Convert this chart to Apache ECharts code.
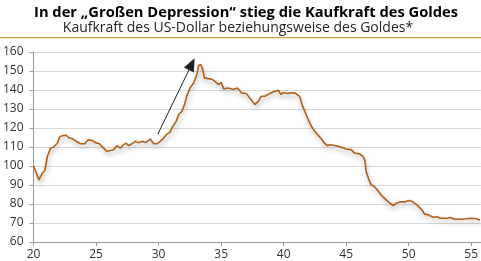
<!DOCTYPE html>
<html><head><meta charset="utf-8">
<script src="https://cdn.jsdelivr.net/npm/echarts@6/dist/echarts.min.js"></script>
<style>html,body{margin:0;padding:0;background:#fff}#c{width:481px;height:261px}</style>
</head><body><div id="c"></div>
<script>
var titleText = 'In der \u201EGro\u00DFen Depression\u201C stieg die Kaufkraft des Goldes';
var subtitleText = 'Kaufkraft des US-Dollar beziehungsweise des Goldes*';
var yTicks = [60, 70, 80, 90, 100, 110, 120, 130, 140, 150, 160];
var xTicks = [20, 25, 30, 35, 40, 45, 50, 55];
var years = [20,20.1,20.43,20.5,20.7,20.9,21.1,21.36,21.6,21.9,22.07,22.3,22.6,22.8,23.14,23.4,23.75,24.1,24.36,24.68,24.95,25.26,25.4,25.6,25.88,26.07,26.4,26.67,26.95,27.1,27.4,27.6,27.87,28.13,28.4,28.7,28.95,29.33,29.6,29.87,30.13,30.4,30.66,30.9,31.1,31.4,31.6,31.86,32.07,32.26,32.52,32.8,33.06,33.2,33.37,33.53,33.66,34.0,34.25,34.5,34.79,35.0,35.2,35.58,35.98,36.3,36.63,37.0,37.4,37.7,37.97,38.2,38.5,38.9,39.3,39.6,39.77,40.0,40.3,40.57,40.9,41.27,41.5,41.87,42.25,42.6,42.96,43.27,43.5,43.7,44.2,44.55,45.0,45.4,45.67,46.07,46.35,46.5,46.6,46.8,47.0,47.3,47.6,47.86,48.2,48.5,48.76,49.0,49.3,49.7,50.0,50.28,50.55,50.8,51.1,51.25,51.6,51.94,52.26,52.53,53.05,53.3,53.7,54.24,54.6,55.0,55.4,55.7];
var values = [100,99,92.7,92.4,96.3,97.5,105,109.4,110,112,115.2,116,116.2,115,114.2,113,111.7,111.7,113.8,113.4,112.3,111.7,111,109.4,107.7,108,108.6,110.7,109.4,110.7,112,110.7,111.7,113,112.3,113,112.3,114.2,111.7,111.7,113,114.7,116.8,117.7,120.5,123.5,127,128.8,132.3,137,141.1,143.7,148.1,152.9,153.4,150.8,146.4,146,145.7,144.6,142.8,144,140.6,141.1,140.3,141.1,138.5,138.2,134.9,132.3,134,136.7,136.7,138.2,139.3,139.8,137.7,138.7,138.2,138.5,138.5,136.7,131.8,125.8,120.5,117.3,114.7,112,110.7,111.2,110.7,110,108.9,108.6,106.8,106.4,105,103,97.1,93.1,90.1,88.9,86.5,84.3,82.2,80.4,79.2,80.4,81.1,81.1,81.8,81.3,80.1,78.6,76.5,74.8,74.2,73.0,73.3,72.5,72.5,72.9,72.0,72.0,72.2,72.5,72.2,71.6];
var arrowFrom = [29.94, 116.8];
var arrowTo = [32.65, 153.6];

var data = years.map(function (y, i) { return [y, values[i]]; });
var chart = echarts.init(document.getElementById('c'));
chart.setOption({
  animation: false,
  title: [
    {text: titleText, left: 241, top: 0, textAlign: 'center',
     textStyle: {fontFamily: 'Open Sans', fontWeight: 'bold', fontSize: 14.7, color: '#000'}},
    {text: subtitleText, left: 233, top: 16, textAlign: 'center',
     textStyle: {fontFamily: 'Open Sans', fontWeight: 'normal', fontSize: 14, color: '#222'}}
  ],
  graphic: [{type: 'rect', left: 0, top: 37, shape: {width: 481, height: 1.2}, style: {fill: '#c9a04a'}}],
  grid: {left: 31, top: 52, right: 0, bottom: 19},
  xAxis: {
    type: 'value', min: 20, max: 55.77,
    axisLine: {lineStyle: {color: '#999'}},
    axisTick: {show: true, length: 4, lineStyle: {color: '#999'}, customValues: xTicks},
    splitLine: {show: false},
    axisLabel: {color: '#333', fontSize: 12, fontFamily: 'Open Sans', margin: 7, customValues: xTicks}
  },
  yAxis: {
    type: 'value', min: 60, max: 160, interval: 10,
    axisLine: {show: true, lineStyle: {color: '#999'}},
    axisTick: {show: true, length: 4, lineStyle: {color: '#999'}},
    splitLine: {lineStyle: {color: '#d9d9d9'}},
    axisLabel: {color: '#333', fontSize: 12, fontFamily: 'Open Sans', margin: 10}
  },
  series: [{
    type: 'line', data: data, showSymbol: false, symbol: 'none',
    lineStyle: {color: '#b0601a', width: 1.6, shadowColor: 'rgba(0,0,0,0.35)', shadowBlur: 5, shadowOffsetY: 3, shadowOffsetX: 1},
    markLine: {
      silent: true, symbol: ['none', 'triangle'], symbolSize: [11, 13],
      label: {show: false},
      lineStyle: {color: '#222', width: 1, type: 'solid'},
      data: [[{coord: arrowFrom}, {coord: arrowTo, symbol: 'triangle'}]]
    }
  }]
});
</script></body></html>
